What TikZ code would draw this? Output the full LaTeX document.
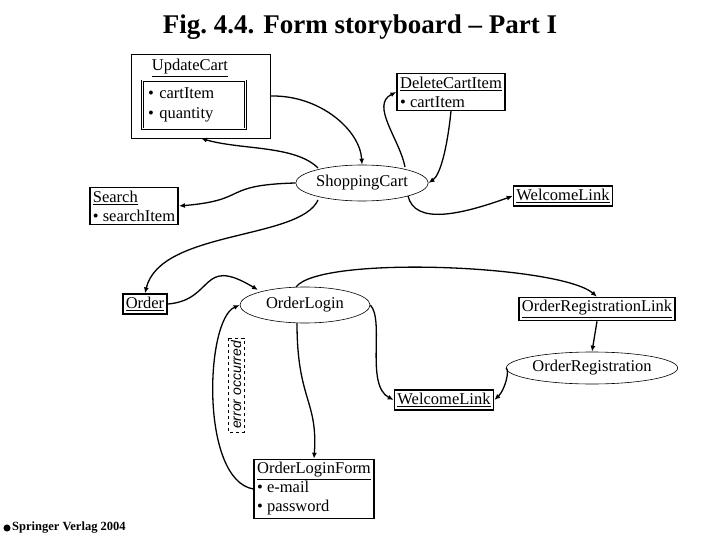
\documentclass[tikz,border=0pt]{standalone}
\usepackage{fontspec}
\setmainfont{Liberation Serif}
\newfontfamily\sansfont{Liberation Sans}
\usepackage{tikz}
\usetikzlibrary{arrows.meta,shapes.geometric}

\begin{document}
\begin{tikzpicture}[x=1pt, y=-1pt,
    every node/.style={font=\fontsize{16.5}{19}\selectfont, inner sep=2pt},
    page/.style={draw, line width=1.6pt, align=left, inner sep=3pt},
    action/.style={draw, ellipse, line width=0.6pt, inner sep=1pt},
    flow/.style={line width=1.3pt, -{Latex[length=6pt,width=5pt]}}]
    \useasboundingbox (0,0) rectangle (720,540);

    % Title
    \node (title) at (360,27) {\fontsize{27}{30}\selectfont\bfseries Fig.~4.4. Form storyboard -- Part I};

    % Pages and actions
    \node[draw, line width=0.6pt, minimum width=139pt, minimum height=84pt] (updatecart) at (201,96) {};
    \node (updatetitle) at (190,68) {\underline{UpdateCart}};
    \node[draw, double, line width=0.8pt, double distance=1pt, minimum width=103pt, minimum height=48pt, align=left, text width=92pt] (updateform) at (194,105) {\textbullet\ cartItem\\[1pt] \textbullet\ quantity};
    \node[page] (deleteitem) at (451,92) {\underline{DeleteCartItem}\\ \textbullet\ cartItem};
    \node[action, minimum width=124pt, minimum height=36pt] (cart) at (362,183) {ShoppingCart};
    \node[page] (search) at (134,206) {\underline{Search}\\ \textbullet\ searchItem};
    \node[page] (welcome) at (563,196) {\underline{WelcomeLink}};
    \node[page] (order) at (145,304) {\underline{Order}};
    \node[action, minimum width=130pt, minimum height=36pt] (login) at (305,305) {OrderLogin};
    \node[page] (reglink) at (597,309) {\underline{OrderRegistrationLink}};
    \node[action, minimum width=140pt, minimum height=32pt] (registration) at (592,368) {OrderRegistration};
    \node[page] (welcome2) at (444,400) {\underline{WelcomeLink}};
    \node[page] (loginform) at (314,489) {\underline{OrderLoginForm}\\ \textbullet\ e-mail\\ \textbullet\ password};
    \node[draw, dashed, line width=0.5pt, rotate=90, inner sep=3pt] (error) at (236,385) {\sansfont\itshape\fontsize{14}{16}\selectfont error occurred};

    % Transitions
    \draw[flow] (updatecart.east) .. controls (320,95) and (360,130) .. (cart.north);
    \draw[flow] (318,168) .. controls (295,145) and (240,150) .. (updatecart.south);
    \draw[flow] (405,167) .. controls (400,140) and (370,105) .. (deleteitem.west);
    \draw[flow] (deleteitem.south) .. controls (447,150) and (440,175) .. (cart.east);
    \draw[flow] (cart.west) .. controls (220,185) and (250,200) .. (search.east);
    \draw[flow] (408,196) .. controls (415,225) and (460,215) .. (welcome.west);
    \draw[flow] (318,200) .. controls (300,240) and (160,230) .. (order.north);
    \draw[flow] (order.east) .. controls (215,300) and (200,255) .. (258,290);
    \draw[flow] (296,287) .. controls (320,255) and (560,265) .. (reglink.north);
    \draw[flow] (login.east) .. controls (385,320) and (365,385) .. (welcome2.west);
    \draw[flow] (297,323) .. controls (297,400) and (318,400) .. (loginform.north);
    \draw[flow] (loginform.west) .. controls (200,480) and (205,320) .. (login.west);
    \draw[flow] (reglink.south) -- (registration.north);
    \draw[flow] (registration.west) .. controls (510,370) and (505,390) .. (welcome2.east);

    % Footer
    \node[circle, fill, inner sep=2.5pt] (logo) at (7,528) {};
    \node[anchor=west, inner sep=0pt] (springer) at (12,528) {\fontsize{12.5}{14}\selectfont\bfseries Springer Verlag 2004};
\end{tikzpicture}
\end{document}
